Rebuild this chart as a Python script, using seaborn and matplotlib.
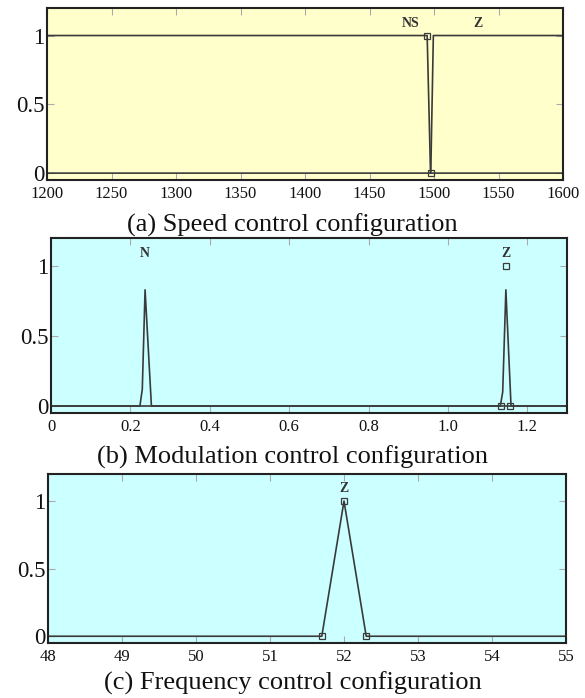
import numpy as np
import pandas as pd
import matplotlib
matplotlib.use("Agg")
import matplotlib.pyplot as plt
import seaborn as sns

sns.set_theme(style="ticks")
plt.rcParams["font.family"] = ["Liberation Serif", "DejaVu Serif"]

# ---------------- data ----------------
# (a) speed control
a_ns_x = [1200, 1494.7, 1497.3, 1600]
a_ns_y = [1, 1, 0, 0]
a_z_x = [1200, 1497.5, 1499.5, 1600]
a_z_y = [0, 0, 1, 1]
a_mark_x = [1494.7, 1497.3]
a_mark_y = [1, 0]
a_labels = ["NS", "Z"]
a_label_x = [1482, 1534]

# (b) modulation control
b_n_x = [0, 0.224, 0.230, 0.237, 0.253, 1.3]
b_n_y = [0, 0, 0.12, 0.83, 0, 0]
b_z_x = [0, 1.132, 1.138, 1.146, 1.159, 1.3]
b_z_y = [0, 0, 0.10, 0.83, 0, 0]
b_mark_x = [1.134, 1.157, 1.146]
b_mark_y = [0, 0, 1.0]
b_labels = ["N", "Z"]
b_label_x = [0.236, 1.146]

# (c) frequency control
c_z_x = [48, 51.7, 52.0, 52.3, 55]
c_z_y = [0, 0, 1, 0, 0]
c_mark_x = [51.7, 52.0, 52.3]
c_mark_y = [0, 1, 0]
c_labels = ["Z"]
c_label_x = [52.0]

label_y = 1.09

captions = ["(a) Speed control configuration",
            "(b) Modulation control configuration",
            "(c) Frequency control configuration"]

xlims = [(1200, 1600), (0, 1.3), (48, 55)]
xticks = [[1200, 1250, 1300, 1350, 1400, 1450, 1500, 1550, 1600],
          [0, 0.2, 0.4, 0.6, 0.8, 1.0, 1.2],
          [48, 49, 50, 51, 52, 53, 54, 55]]
xticklabels = [["1200", "1250", "1300", "1350", "1400", "1450", "1500", "1550", "1600"],
               ["0", "0.2", "0.4", "0.6", "0.8", "1.0", "1.2"],
               ["48", "49", "50", "51", "52", "53", "54", "55"]]
yticks = [0, 0.5, 1]
yticklabels = ["0", "0.5", "1"]

# ---------------- figure ----------------
W, H = 585, 698
fig = plt.figure(figsize=(W / 100, H / 100), dpi=100)

def fx(px):
    return px / W

def fy(py):
    return 1 - py / H

boxes = [(47, 8, 563, 180), (51, 238, 567, 413), (48, 474, 566, 643)]
caption_y = [225, 457, 683]
bgs = ["#FFFFCC", "#CCFFFF", "#CCFFFF"]
line_col = "#3a3a3a"

panels = [
    ([("NS", a_ns_x, a_ns_y), ("Z", a_z_x, a_z_y)], (a_mark_x, a_mark_y), a_labels, a_label_x),
    ([("N", b_n_x, b_n_y), ("Z", b_z_x, b_z_y)], (b_mark_x, b_mark_y), b_labels, b_label_x),
    ([("Z", c_z_x, c_z_y)], (c_mark_x, c_mark_y), c_labels, c_label_x),
]

for i, (series, marks, labels, lab_x) in enumerate(panels):
    l, t, r, b = boxes[i]
    ax = fig.add_axes([fx(l), fy(b), fx(r) - fx(l), fy(t) - fy(b)])
    ax.set_facecolor(bgs[i])
    rows = []
    for name, xs, ys in series:
        for xv, yv in zip(xs, ys):
            rows.append({"series": name, "x": xv, "y": yv})
    df = pd.DataFrame(rows)
    names = [s[0] for s in series]
    sns.lineplot(data=df, x="x", y="y", hue="series", hue_order=names,
                 palette={n: line_col for n in names}, estimator=None,
                 sort=False, legend=False, linewidth=1.2, ax=ax)
    ax.plot(marks[0], marks[1], linestyle="none", marker="s", markersize=5,
            markerfacecolor="none", markeredgecolor=line_col, markeredgewidth=0.9)
    for lab, lx in zip(labels, lab_x):
        ax.text(lx, label_y, lab, ha="center", va="center", fontsize=10,
                fontweight="bold", color="#333333")
    ax.set_xlim(*xlims[i])
    ax.set_ylim(-0.05, 1.2)
    ax.set_xticks(xticks[i])
    ax.set_xticklabels(xticklabels[i], fontsize=12)
    ax.set_yticks(yticks)
    ax.set_yticklabels(yticklabels, fontsize=16.5)
    ax.set_xlabel("")
    ax.set_ylabel("")
    ax.tick_params(direction="in", length=5, width=0.8, color="#aaaaaa",
                   top=True, right=True, labelcolor="#111111")
    ax.tick_params(axis="x", pad=4)
    ax.tick_params(axis="y", pad=2)
    for sp in ax.spines.values():
        sp.set_visible(True)
        sp.set_linewidth(1.5)
        sp.set_color("#222222")
    fig.text(0.5, fy(caption_y[i]), captions[i], ha="center", va="center",
             fontsize=19, color="#111111")

fig.savefig("out.png", dpi=100)
